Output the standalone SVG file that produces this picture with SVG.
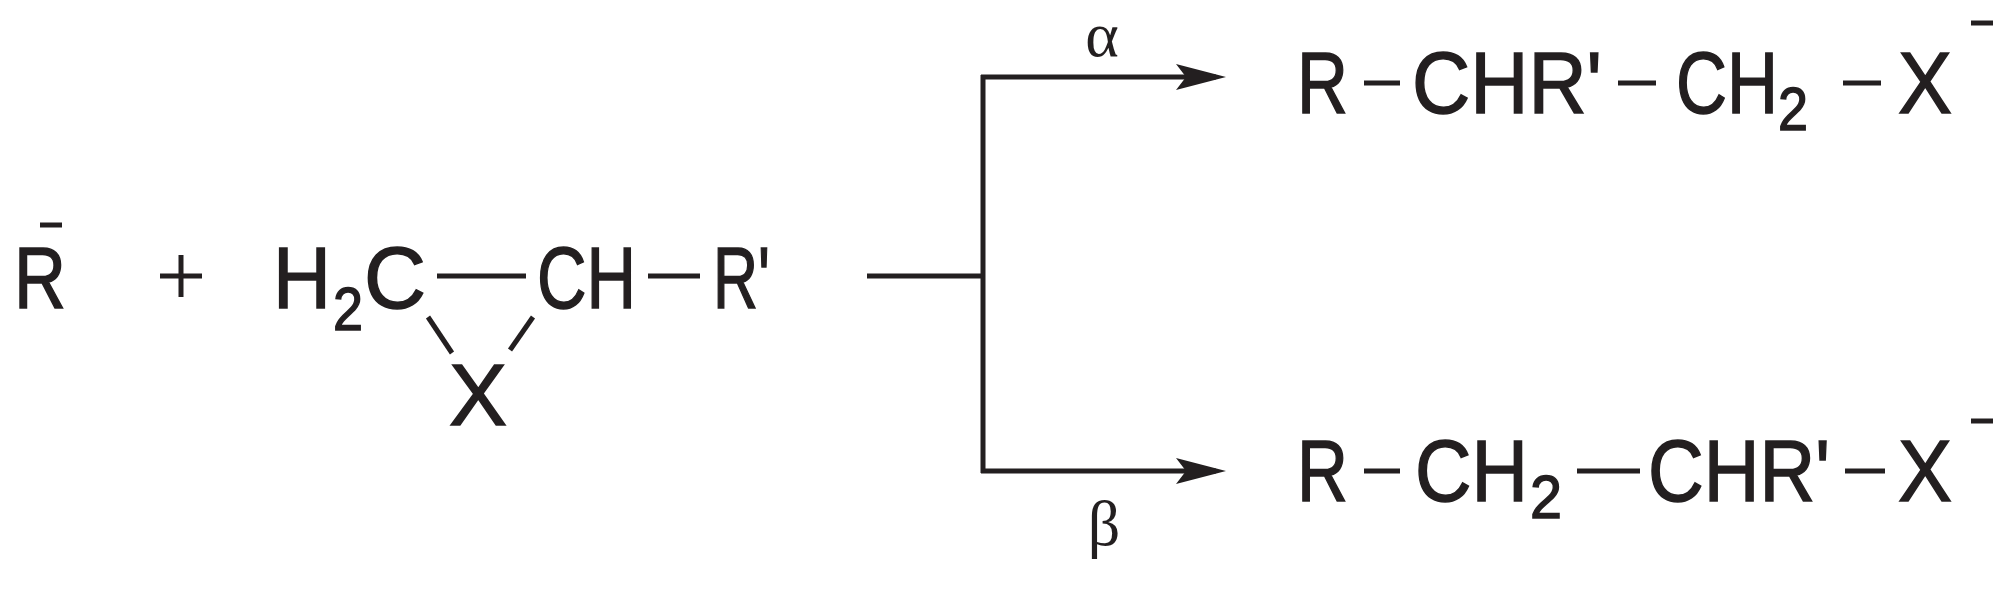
<svg xmlns="http://www.w3.org/2000/svg" width="2013" height="594" viewBox="0 0 2013 594">
<style>
.t{font-family:"Liberation Sans",Arial,sans-serif;font-size:88px;fill:#231f20;stroke:#231f20;stroke-width:1.5}
.s{font-family:"Liberation Sans",Arial,sans-serif;font-size:62px;fill:#231f20;stroke:#231f20;stroke-width:1.5}
.g{font-family:"Liberation Serif","Times New Roman",serif;font-size:64px;fill:#231f20}
.b{stroke:#231f20;stroke-width:5;fill:none}
</style>
<defs><marker id="ah" markerUnits="userSpaceOnUse" markerWidth="50" markerHeight="26" refX="40" refY="13" orient="auto"><path d="M0,0 L50,13 L0,26 L10,13 Z" fill="#231f20"/></marker></defs>
<rect width="2013" height="594" fill="#fff"/>
<g id="reactant-R">
<text class="t" x="14" y="308" textLength="52" lengthAdjust="spacingAndGlyphs">R</text>
<line class="b" x1="40" y1="225" x2="62" y2="225"/>
</g>
<g id="plus"><line class="b" x1="160" y1="276" x2="202" y2="276"/><line class="b" x1="181" y1="255" x2="181" y2="297"/></g>
<g id="epoxide">
<text class="t" x="273" y="308" textLength="58" lengthAdjust="spacingAndGlyphs">H</text>
<text class="s" x="333" y="330" textLength="30" lengthAdjust="spacingAndGlyphs">2</text>
<text class="t" x="364" y="308" textLength="62" lengthAdjust="spacingAndGlyphs">C</text>
<line class="b" x1="437" y1="276" x2="526" y2="276"/>
<text class="t" x="537" y="308" textLength="99" lengthAdjust="spacingAndGlyphs">CH</text>
<line class="b" x1="648" y1="276" x2="700" y2="276"/>
<text class="t" x="713" y="308" textLength="57" lengthAdjust="spacingAndGlyphs">R'</text>
<line class="b" x1="428" y1="317" x2="452" y2="353"/>
<line class="b" x1="533" y1="317" x2="510" y2="350"/>
<text class="t" x="449" y="425" textLength="58" lengthAdjust="spacingAndGlyphs">X</text>
</g>
<g id="connectors">
<line class="b" x1="867" y1="276" x2="983" y2="276"/>
<line class="b" x1="983" y1="75" x2="983" y2="473"/>
<line class="b" x1="981" y1="77" x2="1216" y2="77" marker-end="url(#ah)"/>
<line class="b" x1="981" y1="471" x2="1216" y2="471" marker-end="url(#ah)"/>
<text class="g" x="1102" y="56" text-anchor="middle">α</text>
<text class="g" x="1104" y="545" text-anchor="middle">β</text>
</g>
<g id="product-alpha">
<text class="t" x="1297" y="113" textLength="51" lengthAdjust="spacingAndGlyphs">R</text>
<line class="b" x1="1364" y1="83" x2="1400" y2="83"/>
<text class="t" x="1412" y="113" textLength="190" lengthAdjust="spacingAndGlyphs">CHR'</text>
<line class="b" x1="1618" y1="83" x2="1656" y2="83"/>
<text class="t" x="1676" y="113" textLength="102" lengthAdjust="spacingAndGlyphs">CH</text>
<text class="s" x="1778" y="130" textLength="30" lengthAdjust="spacingAndGlyphs">2</text>
<line class="b" x1="1843" y1="83" x2="1881" y2="83"/>
<text class="t" x="1898" y="113" textLength="54" lengthAdjust="spacingAndGlyphs">X</text>
<line class="b" x1="1971" y1="23" x2="1993" y2="23"/>
</g>
<g id="product-beta">
<text class="t" x="1297" y="501" textLength="51" lengthAdjust="spacingAndGlyphs">R</text>
<line class="b" x1="1364" y1="471" x2="1400" y2="471"/>
<text class="t" x="1415" y="501" textLength="113" lengthAdjust="spacingAndGlyphs">CH</text>
<text class="s" x="1530" y="518" textLength="32" lengthAdjust="spacingAndGlyphs">2</text>
<line class="b" x1="1577" y1="471" x2="1640" y2="471"/>
<text class="t" x="1648" y="501" textLength="182" lengthAdjust="spacingAndGlyphs">CHR'</text>
<line class="b" x1="1845" y1="471" x2="1885" y2="471"/>
<text class="t" x="1898" y="501" textLength="54" lengthAdjust="spacingAndGlyphs">X</text>
<line class="b" x1="1971" y1="421" x2="1993" y2="421"/>
</g>
</svg>
